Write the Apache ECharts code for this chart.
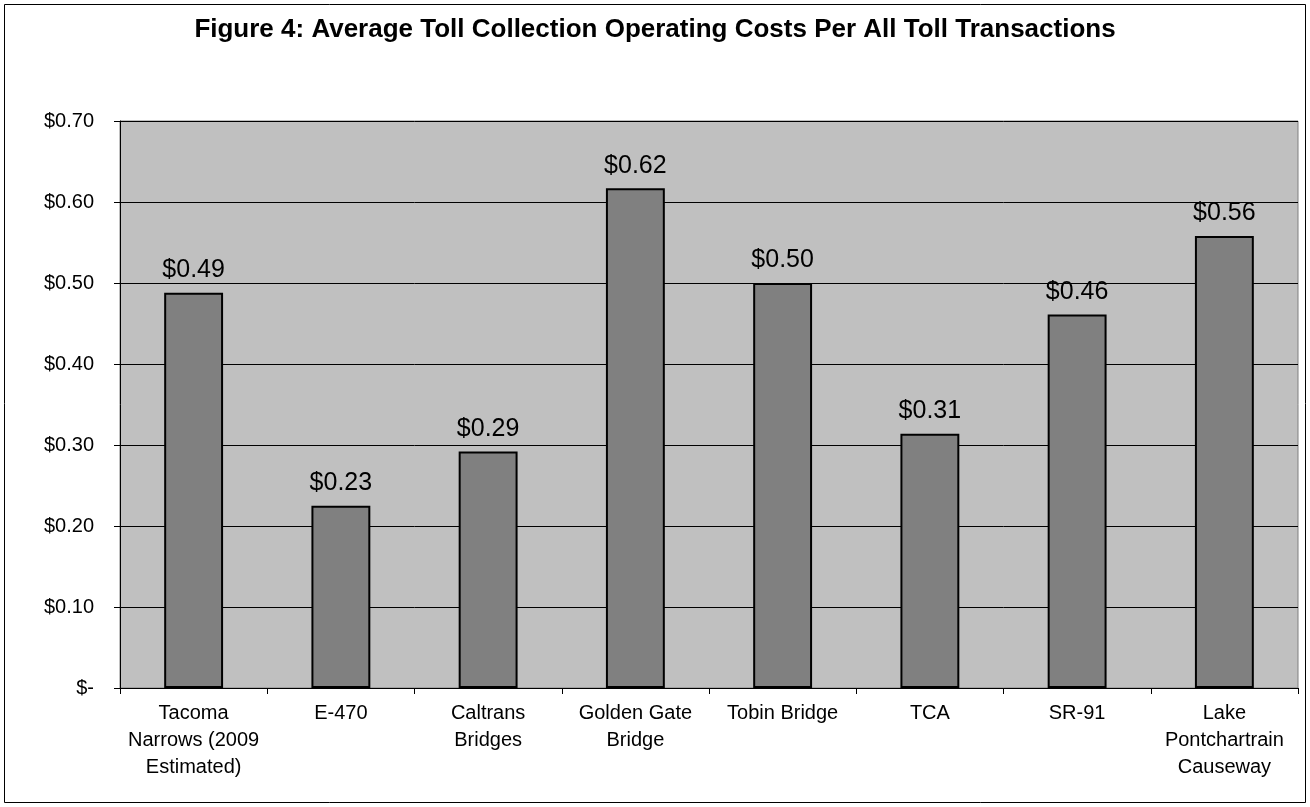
<!DOCTYPE html>
<html>
<head>
<meta charset="utf-8">
<script src="https://cdn.jsdelivr.net/npm/echarts@6/dist/echarts.min.js"></script>
<style>
html,body{margin:0;padding:0;background:#fff;}
#chart{width:1310px;height:807px;}
</style>
</head>
<body>
<div id="chart"></div>
<script>
var titleText = 'Figure 4: Average Toll Collection Operating Costs Per All Toll Transactions';
var categories = ['Tacoma\nNarrows (2009\nEstimated)', 'E-470', 'Caltrans\nBridges', 'Golden Gate\nBridge', 'Tobin Bridge', 'TCA', 'SR-91', 'Lake\nPontchartrain\nCauseway'];
var costs = [0.488, 0.225, 0.292, 0.617, 0.500, 0.314, 0.461, 0.558];
var yTicks = [0, 0.1, 0.2, 0.3, 0.4, 0.5, 0.6, 0.7];

var chart = echarts.init(document.getElementById('chart'), null, {renderer: 'canvas'});
chart.setOption({
  backgroundColor: '#ffffff',
  animation: false,
  title: {
    text: titleText,
    left: 'center',
    top: 12,
    textStyle: {fontFamily: 'Liberation Sans, Arial, sans-serif', fontWeight: 'bold', fontSize: 26, color: '#000'}
  },
  graphic: [{
    type: 'rect',
    shape: {x: 4.5, y: 4.5, width: 1301, height: 798},
    style: {fill: 'none', stroke: '#000', lineWidth: 1},
    silent: true,
    z: -1
  }],
  grid: {
    left: 120, right: 12, top: 121, bottom: 119,
    show: true,
    backgroundColor: '#C0C0C0',
    borderColor: '#808080',
    borderWidth: 1
  },
  xAxis: {
    type: 'category',
    data: categories,
    axisLine: {lineStyle: {color: '#000', width: 1}},
    axisTick: {show: true, alignWithLabel: false, length: 6, lineStyle: {color: '#000'}},
    axisLabel: {
      interval: 0,
      margin: 12,
      fontFamily: 'Liberation Sans, Arial, sans-serif',
      fontSize: 20,
      lineHeight: 27,
      color: '#000',
      align: 'center'
    }
  },
  yAxis: {
    type: 'value',
    min: 0, max: 0.7, interval: 0.1,
    axisLine: {show: true, lineStyle: {color: '#000', width: 1}},
    axisTick: {show: true, inside: false, length: 6, lineStyle: {color: '#000'}},
    splitLine: {show: true, lineStyle: {color: '#000', width: 1}},
    axisLabel: {
      margin: 26,
      fontFamily: 'Liberation Sans, Arial, sans-serif',
      fontSize: 20,
      color: '#000',
      formatter: function (v) {
        var t = yTicks.find(function (k) { return Math.abs(k - v) < 1e-9; });
        if (t === undefined) return '';
        return t === 0 ? '$-' : '$' + t.toFixed(2);
      }
    }
  },
  series: [{
    type: 'bar',
    data: costs,
    barWidth: '40%',
    itemStyle: {color: '#808080', borderColor: '#000', borderWidth: 2},
    label: {
      show: true,
      position: 'top',
      distance: 10,
      fontFamily: 'Liberation Sans, Arial, sans-serif',
      fontSize: 25,
      color: '#000',
      formatter: function (p) { return '$' + p.value.toFixed(2); }
    }
  }]
});
</script>
</body>
</html>
